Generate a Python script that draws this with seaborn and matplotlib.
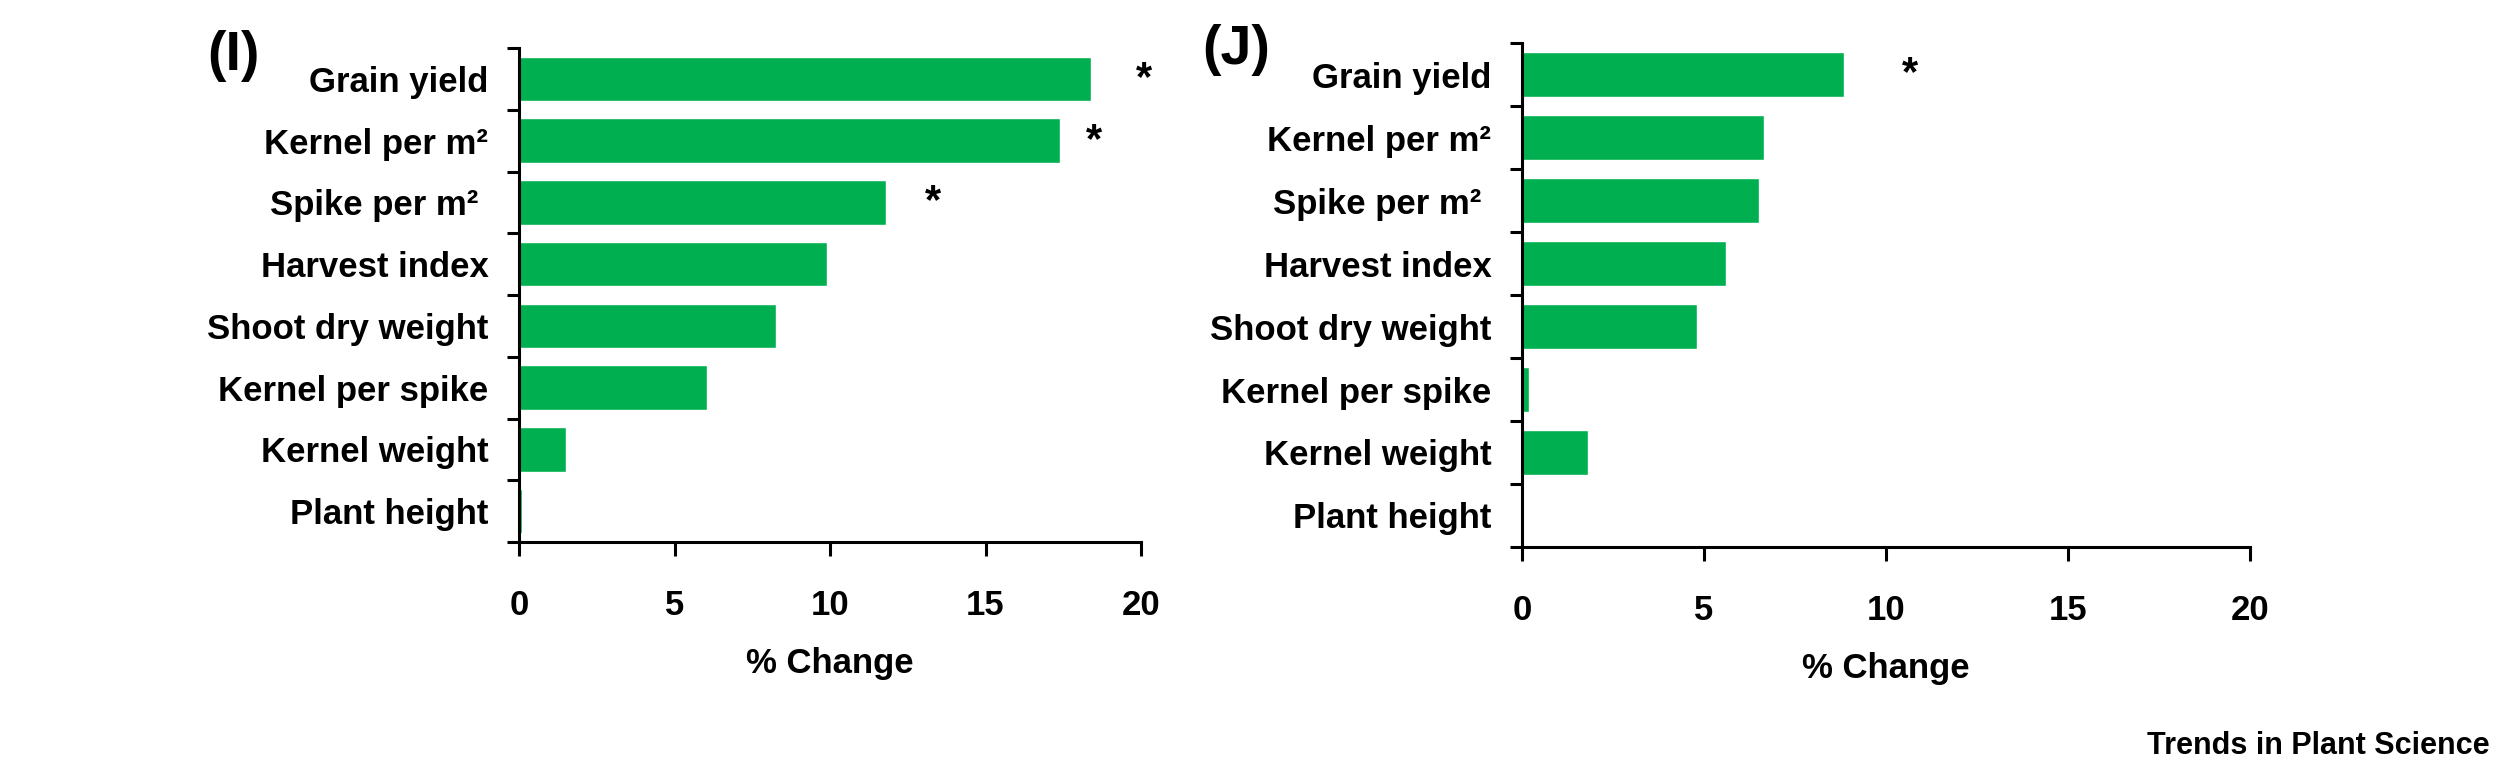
import numpy as np
import pandas as pd
import matplotlib
matplotlib.use('Agg')
import matplotlib.pyplot as plt
import seaborn as sns

# Data
traits = ['Grain yield', 'Kernel per m²', 'Spike per m² ', 'Harvest index',
          'Shoot dry weight', 'Kernel per spike', 'Kernel weight', 'Plant height']
change_i = [18.4, 17.4, 11.8, 9.9, 8.25, 6.05, 1.5, 0.1]
change_j = [8.85, 6.65, 6.5, 5.6, 4.8, 0.2, 1.8, 0.0]
stars_i = [('Grain yield', 20.1), ('Kernel per m²', 18.5), ('Spike per m² ', 13.3)]
stars_j = [('Grain yield', 10.65)]
xticks = [0, 5, 10, 15, 20]

GREEN = '#00B050'

sns.set_theme(style='white')
plt.rcParams['font.family'] = ['Liberation Sans', 'DejaVu Sans']
plt.rcParams['text.color'] = 'black'
plt.rcParams['axes.labelcolor'] = 'black'
plt.rcParams['xtick.color'] = 'black'
plt.rcParams['ytick.color'] = 'black'

fig = plt.figure(figsize=(25, 7.75), dpi=100)
ax_i = fig.add_axes([0.2076, 0.3006, 0.2488, 0.6374])
ax_j = fig.add_axes([0.6088, 0.2942, 0.2912, 0.6503])


def draw_panel(ax, values, stars, tag, tag_xy):
    df = pd.DataFrame({'trait': traits, 'change': values})
    sns.barplot(data=df, x='change', y='trait', color=GREEN, width=0.72,
                saturation=1, ax=ax, orient='h')
    ax.set_xlim(0, 20)
    ax.set_ylim(len(traits) - 0.5, -0.5)
    ax.set_xticks(xticks)
    ax.set_xticklabels([str(t) for t in xticks], fontsize=25,
                       fontweight='bold')
    ax.set_yticks(range(len(traits)))
    ax.set_yticklabels(traits, fontsize=25, fontweight='bold')
    ax.set_yticks(np.arange(-0.5, len(traits), 1), minor=True)
    ax.tick_params(axis='y', which='major', length=0, pad=22)
    ax.tick_params(axis='y', which='minor', length=9, width=2.2,
                   direction='out', left=True, color='black')
    ax.tick_params(axis='x', which='major', length=10, width=2.2,
                   direction='out', bottom=True, color='black', pad=24)
    ax.set_ylabel('')
    ax.set_xlabel('% Change', fontsize=25, fontweight='bold', labelpad=18)
    for side in ['top', 'right']:
        ax.spines[side].set_visible(False)
    for side in ['left', 'bottom']:
        ax.spines[side].set_linewidth(2.2)
        ax.spines[side].set_color('black')
    for name, xpos in stars:
        ax.text(xpos, traits.index(name), '*', fontsize=30, fontweight='bold',
                ha='center', va='center')
    fig.text(tag_xy[0], tag_xy[1], tag, fontsize=40, fontweight='bold',
             ha='left', va='center')


draw_panel(ax_i, change_i, stars_i, '(I)', (0.083, 0.928))
draw_panel(ax_j, change_j, stars_j, '(J)', (0.481, 0.936))

fig.text(0.996, 0.038, 'Trends in Plant Science', fontsize=22,
         fontweight='bold', ha='right', va='center')

fig.savefig('out.png', dpi=100)
